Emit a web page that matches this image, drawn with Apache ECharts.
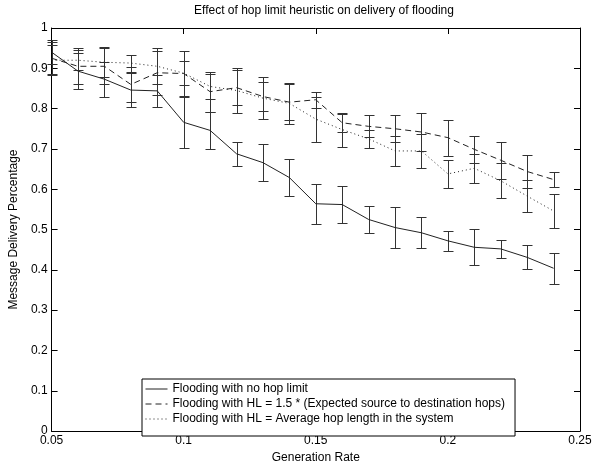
<!DOCTYPE html>
<html>
<head>
<meta charset="utf-8">
<script src="https://cdn.jsdelivr.net/npm/echarts@6/dist/echarts.min.js"></script>
<style>html,body{margin:0;padding:0;background:#fff}#c{width:610px;height:469px}</style>
</head>
<body>
<div id="c"></div>
<script>
// ---- data ----
const genRate = [0.05,0.06,0.07,0.08,0.09,0.10,0.11,0.12,0.13,0.14,0.15,0.16,0.17,0.18,0.19,0.20,0.21,0.22,0.23,0.24];
const noHopLimit = [0.94,0.893,0.873,0.846,0.844,0.766,0.746,0.688,0.666,0.629,0.564,0.562,0.525,0.505,0.492,0.472,0.456,0.452,0.431,0.404];
const errNoHopLimit = [0.03,0.045,0.043,0.042,0.04,0.063,0.045,0.03,0.045,0.047,0.05,0.045,0.034,0.05,0.038,0.024,0.045,0.022,0.03,0.039];
const hl15 = [0.925,0.905,0.905,0.86,0.889,0.887,0.842,0.852,0.83,0.816,0.822,0.765,0.756,0.75,0.742,0.728,0.699,0.672,0.644,0.624];
const errHl15 = [0.04,0.045,0.045,0.043,0.055,0.055,0.05,0.044,0.035,0.045,0.02,0.022,0.027,0.033,0.047,0.045,0.034,0.046,0.04,0.018];
const hlAvg = [0.92,0.92,0.915,0.913,0.905,0.888,0.855,0.845,0.826,0.813,0.774,0.748,0.725,0.695,0.695,0.638,0.652,0.621,0.583,0.546];
const errHlAvg = [0.037,0.025,0.037,0.021,0.045,0.03,0.03,0.055,0.052,0.05,0.056,0.042,0.022,0.037,0.042,0.035,0.036,0.043,0.04,0.042];
const seriesNames = [
  'Flooding with no hop limit',
  'Flooding with HL = 1.5 * (Expected source to destination hops)',
  'Flooding with HL = Average hop length in the system'
];
const xTicks = [0.05,0.1,0.15,0.2,0.25];
const yTicks = [0,0.1,0.2,0.3,0.4,0.5,0.6,0.7,0.8,0.9,1];

const FONT = 'Liberation Sans, Arial, Helvetica, sans-serif';
const INK = '#222';

function errorBars(vals, errs) {
  return {
    type: 'custom',
    silent: true,
    z: 2,
    encode: { x: 0, y: [1, 2] },
    data: genRate.map((xv, i) => [xv, vals[i] - errs[i], vals[i] + errs[i]]),
    renderItem: function (params, api) {
      const xv = api.value(0);
      const lo = api.coord([xv, api.value(1)]);
      const hi = api.coord([xv, api.value(2)]);
      const cx = Math.round(lo[0]) + 0.5;
      const yl = Math.round(lo[1]) + 0.5;
      const yh = Math.round(hi[1]) + 0.5;
      const w = 5;
      const st = { stroke: '#333', lineWidth: 1 };
      return {
        type: 'group',
        children: [
          { type: 'line', shape: { x1: cx, y1: yl, x2: cx, y2: yh }, style: st },
          { type: 'line', shape: { x1: cx - w, y1: yh, x2: cx + w, y2: yh }, style: st },
          { type: 'line', shape: { x1: cx - w, y1: yl, x2: cx + w, y2: yl }, style: st }
        ]
      };
    }
  };
}

function lineSeries(name, vals, type) {
  return {
    type: 'line',
    name: name,
    data: genRate.map((xv, i) => [xv, vals[i]]),
    symbol: 'none',
    showSymbol: false,
    z: 3,
    lineStyle: { color: INK, width: 1, type: type },
    itemStyle: { color: INK },
    animation: false
  };
}

const fmt = v => String(parseFloat(Number(v).toFixed(2)));

const chart = echarts.init(document.getElementById('c'), null, { renderer: 'canvas' });
chart.setOption({
  animation: false,
  backgroundColor: '#fff',
  title: {
    text: 'Effect of hop limit heuristic on delivery of flooding',
    left: 324, top: 5, padding: 0, textAlign: 'center',
    textStyle: { fontSize: 12, fontWeight: 'normal', color: '#000', fontFamily: FONT }
  },
  grid: { left: 47, right: 30, top: 28, bottom: 26, containLabel: false },
  legend: {
    data: seriesNames,
    orient: 'vertical',
    left: 142, top: 379,
    itemWidth: 22, itemHeight: 12, itemGap: 3,
    padding: [4, 10, 11, 3],
    borderColor: '#000', borderWidth: 1,
    backgroundColor: '#fff',
    selectedMode: false,
    z: 10,
    itemStyle: { color: 'rgba(0,0,0,0)', borderColor: 'rgba(0,0,0,0)', borderWidth: 0, opacity: 0 },
    lineStyle: { width: 1 },
    textStyle: { fontSize: 12, color: '#000', fontFamily: FONT, lineHeight: 12 }
  },
  xAxis: [
    {
      type: 'value', min: 0.05, max: 0.25, interval: 0.05,
      name: 'Generation Rate', nameLocation: 'middle', nameGap: 15,
      nameTextStyle: { fontSize: 12, color: '#000', fontFamily: FONT },
      axisLine: { show: true, onZero: false, lineStyle: { color: '#000', width: 1 } },
      axisTick: { show: true, inside: true, length: 6, lineStyle: { color: '#000' } },
      axisLabel: { fontSize: 12, color: '#000', fontFamily: FONT, margin: 4, formatter: fmt },
      splitLine: { show: false }
    },
    {
      type: 'value', min: 0.05, max: 0.25, interval: 0.05, position: 'top',
      axisLine: { show: true, onZero: false, lineStyle: { color: '#000', width: 1 } },
      axisTick: { show: true, inside: true, length: 6, lineStyle: { color: '#000' } },
      axisLabel: { show: false },
      splitLine: { show: false }
    }
  ],
  yAxis: [
    {
      type: 'value', min: 0, max: 1, interval: 0.1,
      name: 'Message Delivery Percentage', nameLocation: 'middle', nameGap: 28,
      nameTextStyle: { fontSize: 12, color: '#000', fontFamily: FONT },
      axisLine: { show: true, onZero: false, lineStyle: { color: '#000', width: 1 } },
      axisTick: { show: true, inside: true, length: 6, lineStyle: { color: '#000' } },
      axisLabel: { fontSize: 12, color: '#000', fontFamily: FONT, margin: 4, formatter: fmt },
      splitLine: { show: false }
    },
    {
      type: 'value', min: 0, max: 1, interval: 0.1, position: 'right',
      axisLine: { show: true, onZero: false, lineStyle: { color: '#000', width: 1 } },
      axisTick: { show: true, inside: true, length: 6, lineStyle: { color: '#000' } },
      axisLabel: { show: false },
      splitLine: { show: false }
    }
  ],
  series: [
    errorBars(noHopLimit, errNoHopLimit),
    errorBars(hl15, errHl15),
    errorBars(hlAvg, errHlAvg),
    lineSeries(seriesNames[0], noHopLimit, 'solid'),
    lineSeries(seriesNames[1], hl15, [6, 4]),
    lineSeries(seriesNames[2], hlAvg, [1, 3])
  ]
});
</script>
</body>
</html>
